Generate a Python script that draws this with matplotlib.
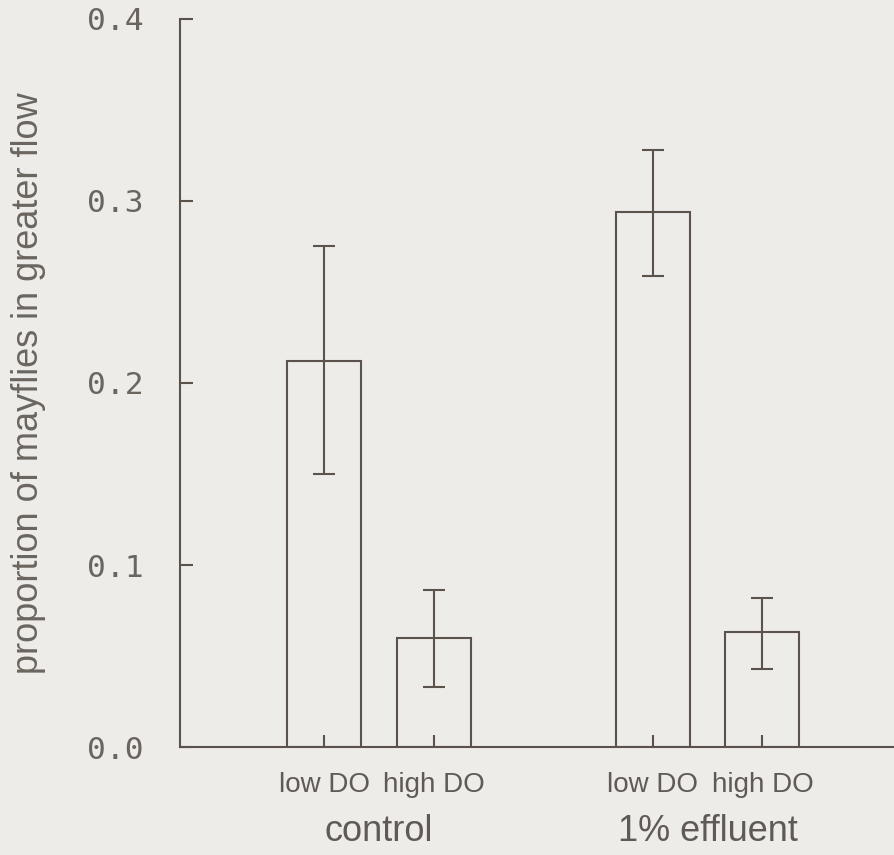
import matplotlib
matplotlib.use('Agg')
import matplotlib.pyplot as plt

# data
groups = ['control', '1% effluent']
conditions = ['low DO', 'high DO']
positions = [1, 2, 4, 5]
tick_labels = ['low DO', 'high DO', 'low DO', 'high DO']
means = [0.212, 0.060, 0.294, 0.063]
err_low = [0.150, 0.033, 0.259, 0.043]
err_high = [0.275, 0.086, 0.328, 0.082]
y_ticks = [0.0, 0.1, 0.2, 0.3, 0.4]

ink = '#5a524b'
paper = '#eeece8'

fig = plt.figure(figsize=(8.95, 8.55), dpi=100, facecolor=paper)
ax = fig.add_axes([0.2011, 0.1263, 0.7989, 0.8515])
ax.set_facecolor(paper)

# open bars
ax.bar(positions, means, width=0.675, facecolor='none', edgecolor=ink, linewidth=1.5)

# error bars
lower = [m - lo for m, lo in zip(means, err_low)]
upper = [hi - m for m, hi in zip(means, err_high)]
ax.errorbar(positions, means, yerr=[lower, upper], fmt='none', ecolor=ink,
            elinewidth=1.5, capsize=8, capthick=1.5)

ax.set_xlim(-0.315, 6.21)
ax.set_ylim(0, 0.4)

for side in ['top', 'right']:
    ax.spines[side].set_visible(False)
for side in ['left', 'bottom']:
    ax.spines[side].set_color(ink)
    ax.spines[side].set_linewidth(1.5)

ax.set_yticks(y_ticks)
ax.set_yticklabels(['%.1f' % v for v in y_ticks], family='DejaVu Sans Mono',
                   fontsize=22.5, color='#6a655f')
ax.tick_params(axis='y', direction='in', length=9, width=1.5, color=ink, pad=26)

ax.set_xticks(positions)
ax.set_xticklabels(tick_labels, family='Liberation Sans', fontsize=20, color='#5f5a55')
ax.tick_params(axis='x', direction='in', length=9, width=1.5, color=ink, pad=18)

# group labels under the condition labels
for i, g in enumerate(groups):
    xc = (positions[2 * i] + positions[2 * i + 1]) / 2
    ax.text(xc, -0.0465, g, ha='center', va='center', family='Liberation Sans',
            fontsize=26, color='#5f5a55', clip_on=False)

ax.set_ylabel('proportion of mayflies in greater flow', family='Liberation Sans',
              fontsize=26, color='#6a655f', labelpad=30)

fig.savefig('out.png', dpi=100, facecolor=paper)
